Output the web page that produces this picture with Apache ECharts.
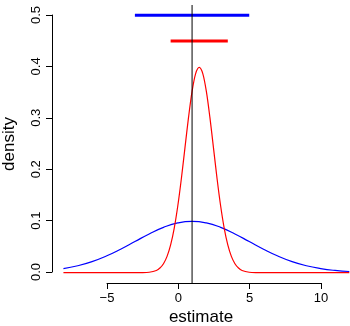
<!DOCTYPE html>
<html>
<head>
<meta charset="utf-8">
<script src="https://cdn.jsdelivr.net/npm/echarts@6/dist/echarts.min.js"></script>
<style>
  html, body { margin: 0; padding: 0; background: #fff; }
  #chart { width: 350px; height: 326px; }
</style>
</head>
<body>
<div id="chart"></div>
<script>
// values
const blueX = [-8, -7, -6, -5, -4, -3, -2, -1, 0, 1, 2, 3, 4, 5, 6, 7, 8, 9, 10, 11, 12];
const blueY = [0.008, 0.0135, 0.0216, 0.0324, 0.0457, 0.0605, 0.0753, 0.088, 0.0967, 0.0997, 0.0967,
    0.088, 0.0753, 0.0605, 0.0457, 0.0324, 0.0216, 0.0135, 0.008, 0.0044, 0.0023];

const redX = [-8, -4, -3, -2.5, -2, -1.5, -1.25, -1, -0.75, -0.5, -0.25, 0, 0.25, 0.5, 0.75, 1, 1.25, 1.5,
    1.75, 2, 2.25, 2.5, 2.75, 3, 3.25, 3.5, 3.75, 4, 4.25, 4.5, 5, 5.5, 6, 7, 12];
const redY = [0, 0, 0, 0.0001, 0.0009, 0.0044, 0.0091, 0.0175, 0.0317, 0.054, 0.0863, 0.1295, 0.1826, 0.242,
    0.3011, 0.3521, 0.3867, 0.3989, 0.3867, 0.3521, 0.3011, 0.242, 0.1826, 0.1295, 0.0863, 0.054, 0.0317,
    0.0175, 0.0091, 0.0044, 0.0009, 0.0001, 0, 0, 0];

const blueBar = [[-3, 0.5], [5, 0.5]];
const redBar = [[-0.5, 0.45], [3.5, 0.45]];
const vline = 1;

const xTicks = { min: -5, max: 10, step: 5 };
const yTicks = { min: 0, max: 0.5, step: 0.1 };

const font = 'Liberation Sans, Arial, sans-serif';

const pairs = (xs, ys) => xs.map((x, i) => [x, ys[i]]);

const chart = echarts.init(document.getElementById('chart'));

const option = {
    animation: false,
    grid: [
        { left: 52, right: 0, top: 5, height: 278, outerBoundsMode: 'none' },   // plot region
        { left: 107, width: 214, top: 5, height: 278, outerBoundsMode: 'none' }, // x axis
        { left: 52, right: 0, top: 15, height: 257, outerBoundsMode: 'none' }    // y axis
    ],
    xAxis: [
        {
            gridIndex: 0, type: 'value', min: -8.8, max: 12.05,
            axisLine: { show: false }, axisTick: { show: false }, axisLabel: { show: false },
            splitLine: { show: false },
            name: 'estimate', nameLocation: 'middle', nameGap: 26,
            nameTextStyle: { fontFamily: font, fontSize: 17, color: '#000' }
        },
        {
            gridIndex: 1, type: 'value', min: xTicks.min, max: xTicks.max, interval: xTicks.step,
            axisLine: { lineStyle: { color: '#000', width: 1 } },
            axisTick: { inside: false, length: 6, lineStyle: { color: '#000' } },
            axisLabel: {
                fontFamily: font, fontSize: 13, color: '#000', margin: 9,
                formatter: v => String(v).replace('-', '\u2212')
            },
            splitLine: { show: false }
        },
        {
            gridIndex: 2, type: 'value', show: false, min: 0, max: 1
        }
    ],
    yAxis: [
        {
            gridIndex: 0, type: 'value', min: -0.02, max: 0.52,
            axisLine: { show: false }, axisTick: { show: false }, axisLabel: { show: false },
            splitLine: { show: false },
            name: 'density', nameLocation: 'middle', nameGap: 34,
            nameTextStyle: { fontFamily: font, fontSize: 17, color: '#000' }
        },
        {
            gridIndex: 1, type: 'value', show: false, min: 0, max: 1
        },
        {
            gridIndex: 2, type: 'value', min: yTicks.min, max: yTicks.max, interval: yTicks.step,
            axisLine: { show: true, lineStyle: { color: '#000', width: 1 } },
            axisTick: { show: true, length: 6, lineStyle: { color: '#000' } },
            axisLabel: {
                fontFamily: font, fontSize: 13, color: '#000', rotate: 90, margin: 9,
                formatter: v => v.toFixed(1)
            },
            splitLine: { show: false }
        }
    ],
    series: [
        {
            type: 'line', xAxisIndex: 0, yAxisIndex: 0, data: pairs(blueX, blueY),
            smooth: true, showSymbol: false, lineStyle: { color: '#0000ff', width: 1.2 }
        },
        {
            type: 'line', xAxisIndex: 0, yAxisIndex: 0, data: pairs(redX, redY),
            smooth: 0.3, showSymbol: false, lineStyle: { color: '#ff0000', width: 1.2 }
        },
        {
            type: 'line', xAxisIndex: 0, yAxisIndex: 0, data: blueBar,
            showSymbol: false, lineStyle: { color: '#0000ff', width: 3 }
        },
        {
            type: 'line', xAxisIndex: 0, yAxisIndex: 0, data: redBar,
            showSymbol: false, lineStyle: { color: '#ff0000', width: 3 }
        },
        {
            type: 'line', xAxisIndex: 0, yAxisIndex: 0, data: [[vline, -0.02], [vline, 0.52]],
            showSymbol: false, lineStyle: { color: '#000', width: 1 }
        }
    ]
};

chart.setOption(option);
</script>
</body>
</html>
